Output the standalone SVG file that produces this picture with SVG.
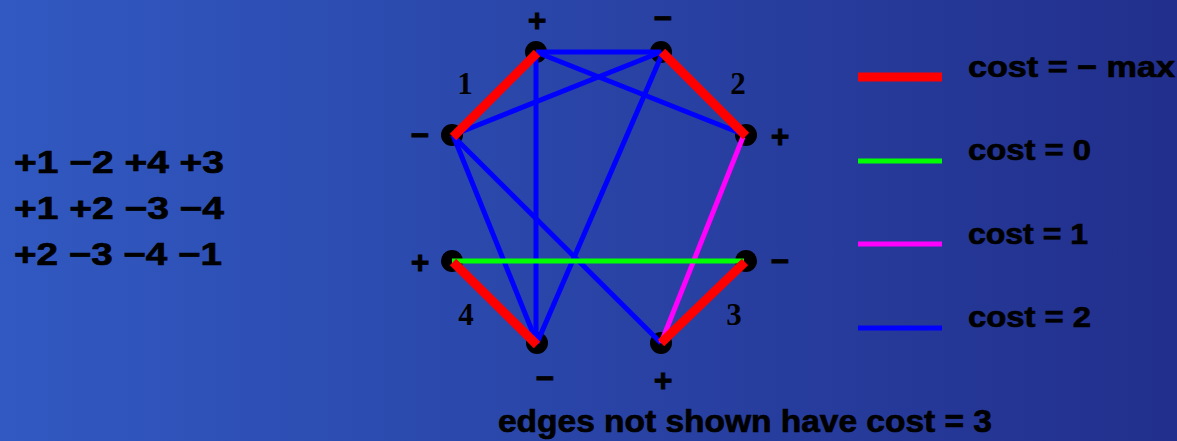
<svg xmlns="http://www.w3.org/2000/svg" width="1177" height="441" viewBox="0 0 1177 441">
<defs>
<linearGradient id="bg" x1="0" y1="0" x2="1" y2="0">
<stop offset="0" stop-color="#3159c1"/>
<stop offset="1" stop-color="#222f8c"/>
</linearGradient>
</defs>
<style>
.t{font-family:"Liberation Sans","DejaVu Sans",sans-serif;font-weight:bold;fill:#000;stroke:#000;stroke-width:0.7px;}
.s{font-family:"Liberation Sans","DejaVu Sans",sans-serif;font-weight:bold;fill:#000;stroke:#000;stroke-width:0.8px;font-size:32px;text-anchor:middle;}
.n{font-family:"Liberation Serif","DejaVu Serif",serif;font-weight:bold;fill:#000;font-size:31px;text-anchor:middle;}
.e{fill:none;stroke-linecap:butt;}
.red{stroke:#ff0000;stroke-width:9;}
.green{stroke:#00ff00;stroke-width:5;}
.mag{stroke:#ff00ff;stroke-width:5;}
.blue{stroke:#0000ff;stroke-width:5;}
.dot{fill:#000;}
</style>
<rect x="0" y="0" width="1177" height="441" fill="url(#bg)"/>

<g id="sequences">
<text class="t" x="14" y="173" font-size="31" textLength="210" lengthAdjust="spacingAndGlyphs">+1 −2 +4 +3</text>
<text class="t" x="14" y="219" font-size="31" textLength="210" lengthAdjust="spacingAndGlyphs">+1 +2 −3 −4</text>
<text class="t" x="14" y="265" font-size="31" textLength="208" lengthAdjust="spacingAndGlyphs">+2 −3 −4 −1</text>
</g>

<g id="n1m"><circle class="dot" cx="452" cy="135" r="11"/><text class="s" x="420" y="146">−</text></g>
<g id="n1p"><circle class="dot" cx="536" cy="52" r="11"/><text class="s" x="537" y="31">+</text></g>
<g id="n2m"><circle class="dot" cx="661" cy="52" r="11"/><text class="s" x="663" y="29">−</text></g>
<g id="n2p"><circle class="dot" cx="746" cy="135" r="11"/><text class="s" x="780" y="147">+</text></g>
<g id="n3m"><circle class="dot" cx="746" cy="261" r="11"/><text class="s" x="780" y="272">−</text></g>
<g id="n3p"><circle class="dot" cx="661" cy="343" r="11"/><text class="s" x="663" y="391">+</text></g>
<g id="n4m"><circle class="dot" cx="537" cy="343" r="11"/><text class="s" x="545" y="389">−</text></g>
<g id="n4p"><circle class="dot" cx="452" cy="261" r="11"/><text class="s" x="420" y="273">+</text></g>

<g id="labels">
<text class="n" x="465" y="94">1</text>
<text class="n" x="738" y="94">2</text>
<text class="n" x="734" y="325">3</text>
<text class="n" x="466" y="325">4</text>
</g>

<g id="connectors">
<line class="e blue" x1="536" y1="52" x2="661" y2="52"/>
<line class="e blue" x1="536" y1="52" x2="745" y2="135"/>
<line class="e blue" x1="661" y1="52" x2="453" y2="135"/>
<line class="e blue" x1="536" y1="52" x2="536" y2="343"/>
<line class="e blue" x1="663" y1="52" x2="537" y2="343"/>
<line class="e blue" x1="453" y1="135" x2="537" y2="343"/>
<line class="e blue" x1="453" y1="136" x2="661" y2="343"/>
<line class="e mag" x1="743" y1="137" x2="661" y2="343"/>
<line class="e green" x1="452" y1="261" x2="744" y2="261"/>
<line class="e red" x1="453" y1="137" x2="537" y2="53"/>
<line class="e red" x1="662" y1="52" x2="746" y2="136"/>
<line class="e red" x1="453" y1="262" x2="537" y2="345"/>
<line class="e red" x1="745" y1="262" x2="661" y2="343"/>
</g>

<g id="legend">
<line class="e red" x1="858" y1="77" x2="942" y2="77"/>
<line class="e green" x1="858" y1="161" x2="942" y2="161"/>
<line class="e mag" x1="858" y1="244" x2="942" y2="244"/>
<line class="e blue" x1="858" y1="328" x2="942" y2="328"/>
<text class="t" x="968" y="77" font-size="30" textLength="207" lengthAdjust="spacingAndGlyphs">cost = − max</text>
<text class="t" x="968" y="160" font-size="30" textLength="123" lengthAdjust="spacingAndGlyphs">cost = 0</text>
<text class="t" x="968" y="244" font-size="30" textLength="120" lengthAdjust="spacingAndGlyphs">cost = 1</text>
<text class="t" x="968" y="327" font-size="30" textLength="123" lengthAdjust="spacingAndGlyphs">cost = 2</text>
</g>

<g id="note">
<text class="t" x="498" y="432" font-size="31" textLength="494" lengthAdjust="spacingAndGlyphs">edges not shown have cost = 3</text>
</g>
</svg>
